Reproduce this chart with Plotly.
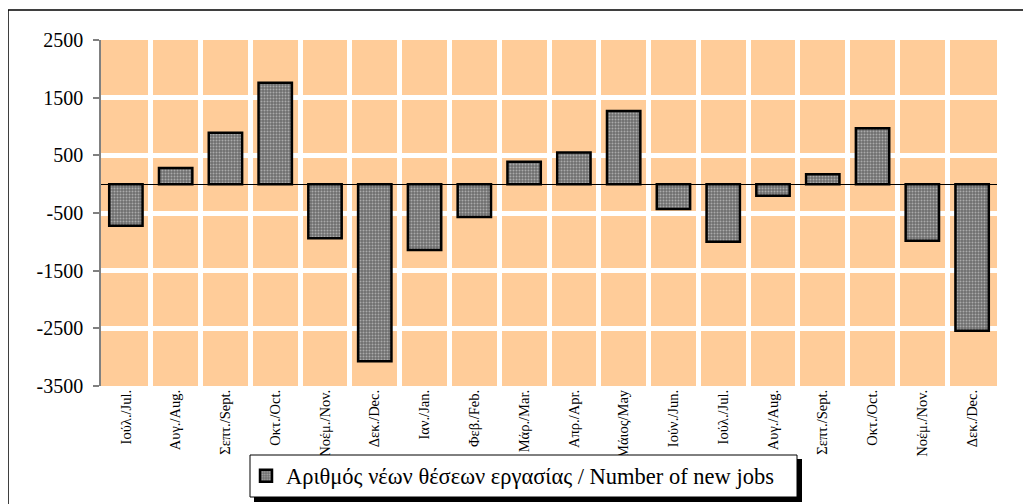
import plotly.graph_objects as go

months = ["Ιούλ./Jul.", "Αυγ./Aug.", "Σεπτ./Sept.", "Οκτ./Oct.", "Νοέμ./Nov.", "Δεκ./Dec.",
          "Ιαν./Jan.", "Φεβ./Feb.", "Μάρ./Mar.", "Απρ./Apr.", "Μάιος/May", "Ιούν./Jun.",
          "Ιούλ./Jul.", "Αυγ./Aug.", "Σεπτ./Sept.", "Οκτ./Oct.", "Νοέμ./Nov.", "Δεκ./Dec."]
new_jobs = [-720, 280, 890, 1760, -940, -3070, -1140, -570, 390, 550, 1270, -430,
            -1000, -200, 170, 970, -980, -2540]
y_ticks = [2500, 1500, 500, -500, -1500, -2500, -3500]
series_name = "Αριθμός νέων θέσεων εργασίας / Number of new jobs"

positions = list(range(len(months)))

# page has an 8px body margin; compensate so the figure lands where the reference is
OFF = 8
W, H = 1031 - OFF, 504 - OFF
L, R, T, B = 101 - OFF, 34, 40 - OFF, 118
pw, ph = W - L - R, H - T - B

def px(x):
    return (x - OFF - L) / pw

def py(y):
    return (H - B - (y - OFF)) / ph

SERIF = "Liberation Serif, Times New Roman, serif"

fig = go.Figure()
fig.add_trace(go.Bar(
    x=positions, y=new_jobs, name=series_name,
    marker=dict(color="#7c7c7c",
                line=dict(color="black", width=2.5),
                pattern=dict(shape=".", fgcolor="#e6e6e6", bgcolor="#6e6e6e", size=3, solidity=0.35)),
    showlegend=True,
))

fig.update_layout(
    width=W, height=H,
    margin=dict(l=L, r=R, t=T, b=B, autoexpand=False),
    paper_bgcolor="white",
    plot_bgcolor="#FFCC99",
    bargap=0.33,
    font=dict(family=SERIF, color="black"),
    showlegend=True,
    legend=dict(
        x=px(246), y=py(476), xanchor="left", yanchor="middle",
        bgcolor="rgba(0,0,0,0)", borderwidth=0,
        font=dict(size=22.5, family=SERIF),
        itemwidth=30,
    ),
    xaxis=dict(
        type="category", tickmode="array", tickvals=positions, ticktext=months,
        tickangle=-90, tickfont=dict(size=14.5),
        tickson="boundaries", showgrid=True, gridcolor="white", gridwidth=5,
        ticks="", showline=False, zeroline=False,
        range=[-0.5, len(months) - 0.5],
    ),
    yaxis=dict(
        range=[-3500, 2500], tickmode="array", tickvals=y_ticks,
        ticktext=[str(v) for v in y_ticks],
        tickfont=dict(size=20),
        showgrid=True, gridcolor="white", gridwidth=5,
        zeroline=True, zerolinecolor="black", zerolinewidth=1,
        showline=True, linecolor="#808080", linewidth=1.5,
        ticks="outside", ticklen=6, tickcolor="#808080", tickwidth=1.5,
        ticklabelstandoff=6,
    ),
    shapes=[
        # outer chart frame
        dict(type="rect", xref="paper", yref="paper",
             x0=px(8), x1=px(1029), y0=py(515), y1=py(10),
             line=dict(color="black", width=1.5), fillcolor="rgba(0,0,0,0)", layer="below"),
        # legend shadow
        dict(type="rect", xref="paper", yref="paper",
             x0=px(254), x1=px(802), y0=py(502), y1=py(459),
             line=dict(width=0), fillcolor="black", layer="above"),
        # legend box
        dict(type="rect", xref="paper", yref="paper",
             x0=px(250), x1=px(797), y0=py(497), y1=py(455),
             line=dict(color="black", width=1), fillcolor="white", layer="above"),
    ],
)

fig.write_html("out.html")
